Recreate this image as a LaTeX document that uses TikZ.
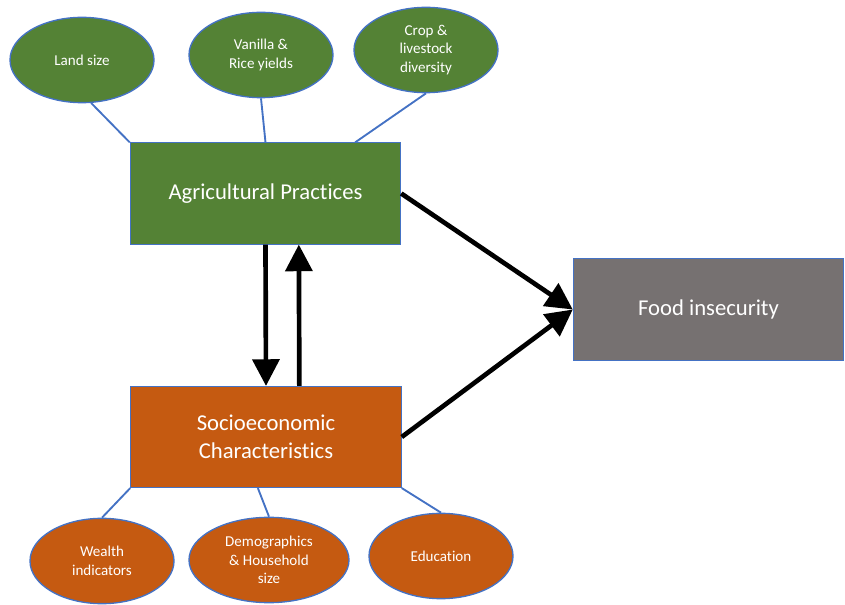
\documentclass[tikz,border=0pt]{standalone}
\usepackage{fontspec}
\setmainfont{Carlito}[Ligatures={NoCommon,NoContextual,NoRequired}]
\usepackage{tikz}
\usetikzlibrary{shapes.geometric, arrows.meta, calc}
\definecolor{cGreen}{RGB}{84,130,53}
\definecolor{cOrange}{RGB}{197,90,17}
\definecolor{cGrey}{RGB}{118,113,113}
\definecolor{cEdge}{RGB}{68,114,196}
\tikzset{
	factor/.style={rectangle, minimum width=203pt, minimum height=76pt, align=center, draw=cEdge, line width=0.6pt, text=white, font=\fontsize{17}{21}\selectfont},
	item/.style  ={ellipse, minimum width=108pt, minimum height=64pt, align=center, inner sep=1pt, draw=cEdge, line width=1pt, text=white, font=\fontsize{11.3}{14}\selectfont},
	link/.style  ={cEdge, line width=1.4pt},
	flowarrow/.style={-{Triangle[length=20pt, width=20pt]}, line width=3.5pt},
}
\begin{document}
\begin{tikzpicture}[x=0.75pt, y=-0.75pt]
	\useasboundingbox (0,0) rectangle (845,605);
	\node[factor, fill=cGreen] (agri) at (265.5,193.5) {Agricultural Practices};
	\node[factor, fill=cOrange] (socio) at (266,437) {Socioeconomic\\Characteristics};
	\node[factor, fill=cGrey, minimum height=77pt] (food) at (708.5,309.5) {Food insecurity};
	% attribute ellipses
	\node[item, fill=cGreen] (land) at (82,60) {Land size};
	\node[item, fill=cGreen] (yield) at (261,55) {Vanilla \&\\Rice yields};
	\node[item, fill=cGreen] (crop) at (426,50) {Crop \&\\livestock\\diversity};
	\node[item, fill=cOrange] (wealth) at (102,561) {Wealth\\indicators};
	\node[item, fill=cOrange, minimum width=120pt] (demo) at (269,560) {Demographics\\\& Household\\size};
	\node[item, fill=cOrange] (edu) at (441,556) {Education};
	\draw[link] (land.-78) -- (agri.north west);
	\draw[link] (yield.south) -- (agri.north);
	\draw[link] (crop.south) -- ($(agri.north west)!0.83!(agri.north east)$);
	\draw[link] (socio.south west) -- (wealth.north);
	\draw[link] ($(socio.south west)!0.47!(socio.south east)$) -- (demo.north);
	\draw[link] (socio.south east) -- (edu.north);
	% causal arrows
	\draw[flowarrow] (agri.south) -- (socio.north);
	\draw[flowarrow] ([xshift=25pt]socio.north) -- ([xshift=25pt]agri.south);
	\draw[flowarrow] (agri.east) -- (food.west);
	\draw[flowarrow] (socio.east) -- (food.west);
\end{tikzpicture}
\end{document}
